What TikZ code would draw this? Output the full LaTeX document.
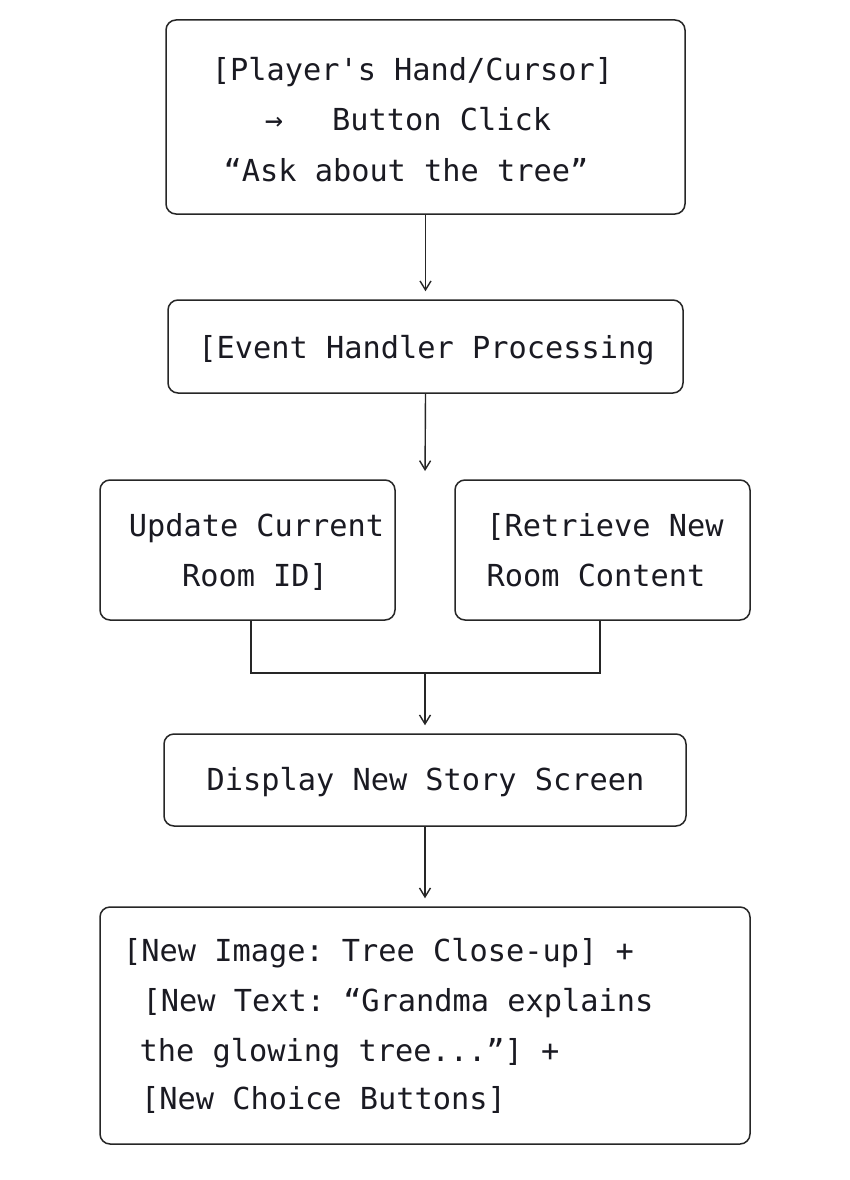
\documentclass[tikz,border=0pt]{standalone}
\usepackage{fontspec}
\setmonofont{DejaVu Sans Mono}
\usetikzlibrary{arrows.meta}
\definecolor{ink}{HTML}{1A1A22}
\definecolor{edge}{HTML}{262626}
\begin{document}
\begin{tikzpicture}[x=1pt,y=-1pt,
  box/.style={draw=edge, line width=1.5pt, rounded corners=10pt, inner sep=0pt, rectangle},
  txt/.style={font=\ttfamily\fontsize{30.3}{36}\selectfont, inner sep=0pt, anchor=base, text=ink},
  arr/.style={draw=edge, line width=1.4pt, -{Straight Barb[length=9pt,width=11pt,line width=1.4pt]}, shorten >=8pt},
  wire/.style={draw=edge, line width=1.4pt}]
\fill[white] (0,0) rectangle (850,1180);
\useasboundingbox (0,0) rectangle (850,1180);

% boxes
\node[box, minimum width=519pt, minimum height=194pt] (b1) at (425.5,117) {};
\node[box, minimum width=515pt, minimum height=93pt] (b2) at (425.5,346.5) {};
\node[box, minimum width=295pt, minimum height=140pt] (b3) at (247.5,550) {};
\node[box, minimum width=295pt, minimum height=140pt] (b4) at (602.5,550) {};
\node[box, minimum width=522pt, minimum height=92pt] (b5) at (425,780) {};
\node[box, minimum width=650pt, minimum height=237pt] (b6) at (425,1025.5) {};

% texts
\node[txt] (t1a) at (412.5,81) {[Player's Hand/Cursor]};
\node[txt] (t1b) at (408,131) {→\hspace{49pt}Button Click};
\node[txt] (t1c) at (406,181) {“Ask about the tree”};
\node[txt] (t2) at (426.5,358) {[Event Handler Processing};
\node[txt] (t3a) at (256.5,536) {Update Current};
\node[txt] (t3b) at (255,586) {Room ID]};
\node[txt] (t4a) at (605,536) {[Retrieve New};
\node[txt] (t4b) at (596,586) {Room Content};
\node[txt] (t5) at (425.5,790) {Display New Story Screen};
\node[txt] (t6a) at (378.5,961) {[New Image: Tree Close-up] +};
\node[txt] (t6b) at (398,1011) {[New Text: “Grandma explains};
\node[txt] (t6c) at (349.5,1061) {the glowing tree...”] +};
\node[txt] (t6d) at (323.5,1109) {[New Choice Buttons]};

% connectors
\coordinate (split) at (425,479);
\coordinate (m) at (425,673);
\draw[arr] (b1.south) -- (b2.north);
\draw[arr] (b2.south) -- (split);
\draw[wire] ([xshift=3.5pt]b3.south) |- (m) -| ([xshift=-2.5pt]b4.south);
\draw[arr] (m) -- (b5.north);
\draw[arr] (b5.south) -- (b6.north);
\end{tikzpicture}
\end{document}
